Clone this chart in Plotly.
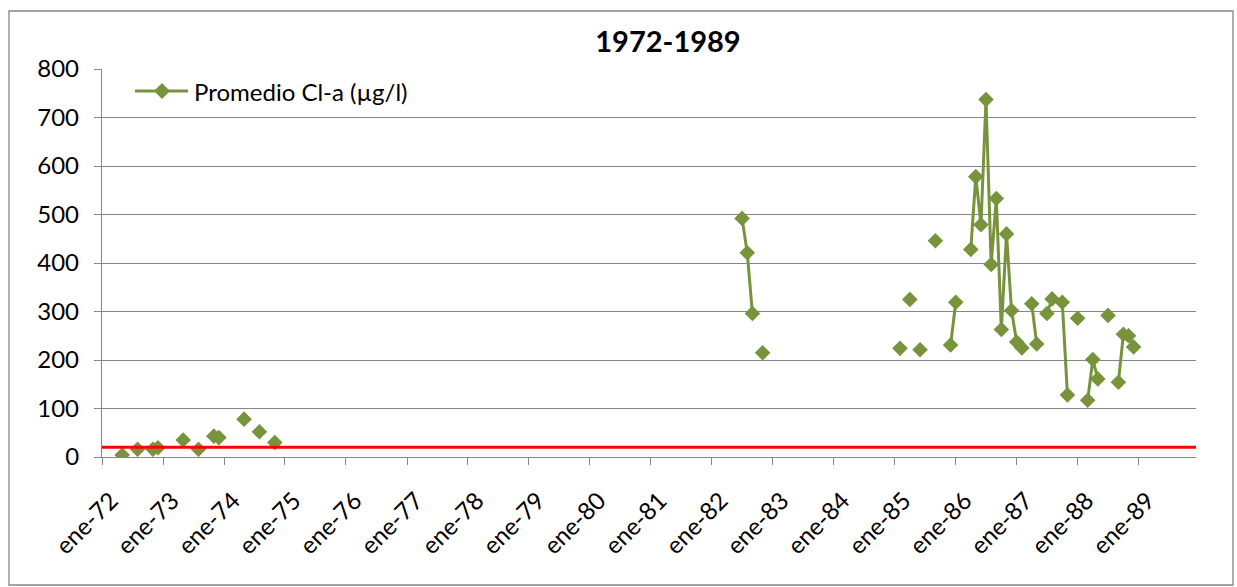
import pandas as pd
import plotly.graph_objects as go

# Monthly mean chlorophyll-a (µg/l); months without a sample are left out
fechas = [
    "1972-05", "1972-08", "1972-11", "1972-12",
    "1973-05", "1973-08", "1973-11", "1973-12",
    "1974-05", "1974-08", "1974-11",
    "1982-07", "1982-08", "1982-09", "1982-11",
    "1985-02", "1985-04", "1985-06", "1985-09", "1985-12",
    "1986-01", "1986-04", "1986-05", "1986-06", "1986-07", "1986-08",
    "1986-09", "1986-10", "1986-11", "1986-12",
    "1987-01", "1987-02", "1987-04", "1987-05", "1987-07", "1987-08",
    "1987-10", "1987-11",
    "1988-01", "1988-03", "1988-04", "1988-05", "1988-07",
    "1988-09", "1988-10", "1988-11", "1988-12",
]
valores = [
    4, 16, 16, 19,
    35, 16, 43, 40,
    78, 52, 30,
    492, 421, 296, 215,
    224, 325, 221, 446, 231,
    319, 428, 578, 479, 737, 397,
    533, 263, 460, 302,
    237, 225, 316, 233, 296, 326,
    319, 128,
    286, 117, 201, 161, 292,
    154, 253, 250, 227,
]

# Reference threshold drawn as a horizontal red line
umbral = 20

nombre_serie = "Promedio Cl-a (µg/l)"
anios = list(range(1972, 1990))
etiquetas = ["ene-%02d" % (a % 100) for a in anios]
ticks_x = ["%d-01-01" % a for a in anios]
ticks_y = [0, 100, 200, 300, 400, 500, 600, 700, 800]

# Put the samples on a continuous monthly index so missing months break the line
serie = pd.Series(valores, index=pd.to_datetime(fechas))
meses = pd.date_range(serie.index.min(), serie.index.max(), freq="MS")
serie = serie.reindex(meses)
x_mes = [d.strftime("%Y-%m-%d") for d in serie.index]
y_mes = [None if pd.isna(v) else float(v) for v in serie.values]

VERDE = "#77933C"
GRIS = "#868686"
FUENTE = "Lato, 'Open Sans', sans-serif"

# Figure geometry (pixels) used to place the legend key in paper units
W, H = 1237, 587
ML, MR, MT, MB = 102, 41, 69, 130
PW, PH = W - ML - MR, H - MT - MB


def px_x(px):
    return (px - ML) / PW


def px_y(py):
    return (H - MB - py) / PH


fig = go.Figure()
fig.add_trace(go.Scatter(
    x=x_mes, y=y_mes,
    mode="lines+markers",
    name=nombre_serie,
    line=dict(color=VERDE, width=3),
    marker=dict(symbol="diamond", size=12, color=VERDE),
    connectgaps=False,
    showlegend=False,
))

fig.add_shape(type="line", xref="paper", x0=0, x1=1, yref="y", y0=umbral, y1=umbral,
              line=dict(color="#FF0000", width=3), layer="above")

# Outer chart frame
fig.add_shape(type="rect", xref="paper", yref="paper",
              x0=px_x(9), x1=px_x(1233), y0=px_y(585), y1=px_y(11),
              line=dict(color=GRIS, width=1.3), fillcolor="rgba(0,0,0,0)", layer="below")

# Legend key: line sample with a diamond in the middle, then the series name
ly = px_y(91)
fig.add_shape(type="line", xref="paper", yref="paper",
              x0=px_x(135), x1=px_x(188), y0=ly, y1=ly,
              line=dict(color=VERDE, width=3))
cx, dx, dy = px_x(162), 8 / PW, 8 / PH
fig.add_shape(type="path", xref="paper", yref="paper",
              path="M %f,%f L %f,%f L %f,%f L %f,%f Z" % (
                  cx - dx, ly, cx, ly + dy, cx + dx, ly, cx, ly - dy),
              fillcolor=VERDE, line=dict(color=VERDE, width=0))
fig.add_annotation(text=nombre_serie, xref="paper", yref="paper",
                   x=px_x(192), y=ly, xanchor="left", yanchor="middle",
                   showarrow=False, font=dict(family=FUENTE, size=24, color="black"))

fig.update_layout(
    width=W, height=H,
    margin=dict(l=ML, r=MR, t=MT, b=MB),
    paper_bgcolor="white", plot_bgcolor="white",
    font=dict(family=FUENTE, size=24, color="black"),
    title=dict(text="<b>1972-1989</b>", x=px_x(668), xref="paper", xanchor="center",
               y=1 - 42 / H, yref="container", yanchor="middle",
               font=dict(family=FUENTE, size=29, color="black")),
    showlegend=False,
    xaxis=dict(
        type="date",
        range=["1972-01-01", "1989-12-10"],
        tickvals=ticks_x, ticktext=etiquetas,
        tickangle=-45,
        showgrid=False, zeroline=False,
        showline=True, linecolor=GRIS, linewidth=1.3,
        ticks="outside", ticklen=7, tickcolor=GRIS, tickwidth=1.3,
        ticklabelstandoff=12,
        ticklabelshift=9,
        tickfont=dict(size=24),
    ),
    yaxis=dict(
        range=[0, 800],
        tickvals=ticks_y,
        showgrid=True, gridcolor=GRIS, gridwidth=1.3,
        zeroline=False,
        showline=True, linecolor=GRIS, linewidth=1.3,
        ticks="outside", ticklen=7, tickcolor=GRIS, tickwidth=1.3,
        ticklabelstandoff=10,
        tickfont=dict(size=24),
    ),
)

fig.write_html("out.html")
